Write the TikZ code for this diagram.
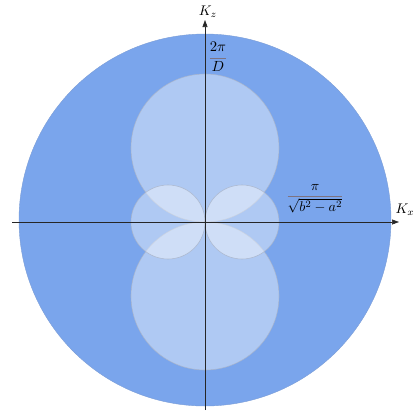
\documentclass[tikz,border=0pt]{standalone}
\usepackage{amsmath}
\usetikzlibrary{arrows.meta}
\definecolor{diskblue}{RGB}{122,165,236}
\definecolor{lobeedge}{RGB}{170,180,200}
\definecolor{barcolor}{RGB}{125,115,130}
\newcommand{\grayfrac}[2]{{\color{barcolor}\dfrac{\color{black}#1}{\color{black}#2}}}
\begin{document}
\begin{tikzpicture}[x=1pt, y=-1pt,
    lobe/.style={fill=white, fill opacity=0.4, draw=lobeedge, draw opacity=0.8, line width=0.6pt},
    axis/.style={-{Triangle[length=7pt, width=5pt]}, line width=0.6pt, black!85},
    lbl/.style={scale=1.4, inner sep=1pt}]
    \useasboundingbox (0,0) rectangle (414,413);

    % Outer disk
    \fill [diskblue, draw=diskblue!80!gray, line width=0.4pt] (205,220) circle (186);

    % Lobes
    \path [lobe] (205,148) circle (74);
    \path [lobe] (205,296) circle (74);
    \path [lobe] (168,222) circle (37);
    \path [lobe] (242,222) circle (37);

    % Axes
    \coordinate (xstart) at (12,222);
    \coordinate (xend) at (399,222);
    \coordinate (zstart) at (205,410);
    \coordinate (zend) at (205,20);
    \draw [axis] (xstart) -- (xend);
    \draw [axis] (zstart) -- (zend);
    \node (kx) [lbl] at (405,210) {$K_x$};
    \node (kz) [lbl] at (208,12) {$K_z$};

    % Labels
    \node (twopi) [lbl, scale=1.05] at (218,57) {$\grayfrac{2\pi}{D}$};
    \node (piroot) [lbl] at (315,199) {$\grayfrac{\pi}{\sqrt{b^2-a^2}}$};
\end{tikzpicture}
\end{document}
